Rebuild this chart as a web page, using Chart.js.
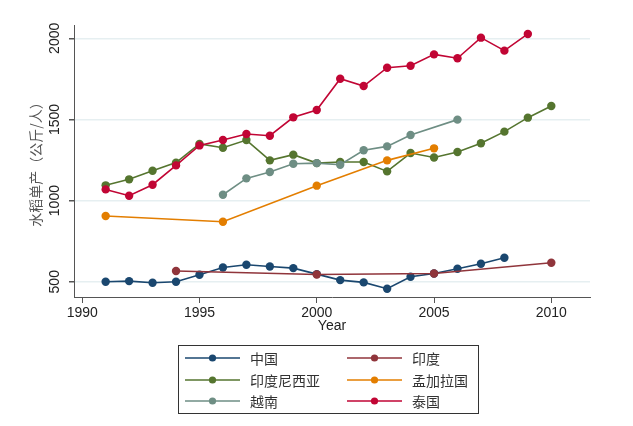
<!DOCTYPE html>
<html><head><meta charset="utf-8">
<script src="https://cdn.jsdelivr.net/npm/chart.js@4"></script>
<style>html,body{margin:0;padding:0;background:#fff}#wrap{width:633px;height:426px}</style>
</head><body><div id="wrap"><canvas id="c" width="633" height="426"></canvas></div>
<script>
const seriesNames = ['中国','印度','印度尼西亚','孟加拉国','越南','泰国'];
const seriesColors = ['#1a476f','#90353b','#55752f','#e37e00','#6e8e84','#c10534'];
const chinaYears = [1991,1992,1993,1994,1995,1996,1997,1998,1999,2000,2001,2002,2003,2004,2005,2006,2007,2008];
const chinaValues = [500,504,494,500,543,588,605,594,584,547,510,496,457,531,551,580,611,648];
const indiaYears = [1994,2000,2005,2010];
const indiaValues = [566,545,551,617];
const indonesiaYears = [1991,1992,1993,1994,1995,1996,1997,1998,1999,2000,2001,2002,2003,2004,2005,2006,2007,2008,2009,2010];
const indonesiaValues = [1094,1131,1184,1234,1349,1326,1373,1248,1283,1231,1238,1238,1180,1293,1266,1299,1353,1425,1511,1583];
const bangladeshYears = [1991,1996,2000,2003,2005];
const bangladeshValues = [905,870,1092,1248,1322];
const vietnamYears = [1996,1997,1998,1999,2000,2001,2002,2003,2004,2006];
const vietnamValues = [1036,1137,1176,1227,1231,1221,1310,1334,1404,1499];
const thailandYears = [1991,1992,1993,1994,1995,1996,1997,1998,1999,2000,2001,2002,2003,2004,2005,2006,2007,2008,2009];
const thailandValues = [1069,1030,1098,1217,1340,1373,1410,1400,1513,1558,1751,1706,1819,1831,1901,1877,2004,1924,2027];
const xTicks = [1990,1995,2000,2005,2010];
const yTicks = [500,1000,1500,2000];
const xTitle = 'Year';
const yTitle = '水稻单产（公斤/人）';

const allYears = [chinaYears,indiaYears,indonesiaYears,bangladeshYears,vietnamYears,thailandYears];
const allValues = [chinaValues,indiaValues,indonesiaValues,bangladeshValues,vietnamValues,thailandValues];

const datasets = seriesNames.map((n,i)=>({
  label:n,
  data: allYears[i].map((y,j)=>({x:y,y:allValues[i][j]})),
  borderColor: seriesColors[i],
  backgroundColor: seriesColors[i],
  borderWidth: 1.6,
  pointRadius: 4.2,
  pointBorderWidth: 0,
  pointBackgroundColor: seriesColors[i],
  tension: 0,
  order: 5 - i
}));

const numFont = '"Liberation Sans", Arial, sans-serif';
const cjkFont = '"Noto Sans CJK SC", sans-serif';

const customDraw = {
  id:'customDraw',
  afterDraw(chart){
    const ctx = chart.ctx;
    const ys = chart.scales.y;
    ctx.save();
    ctx.fillStyle = '#222';
    ctx.font = '14px ' + numFont;
    ctx.textAlign = 'center';
    ctx.textBaseline = 'middle';
    ys.ticks.forEach(t=>{
      const py = ys.getPixelForValue(t.value);
      ctx.save();
      ctx.translate(55, py);
      ctx.rotate(-Math.PI/2);
      ctx.fillText(String(t.value), 0, 0);
      ctx.restore();
    });
    ctx.restore();
    ctx.save();
    ctx.strokeStyle = '#333';
    ctx.lineWidth = 1;
    ctx.strokeRect(178.5, 345.5, 300, 68);
    const colX = [185, 347];
    const rowY = [358, 380, 401];
    chart.data.datasets.forEach((d,i)=>{
      const col = i % 2, row = Math.floor(i/2);
      const x0 = colX[col], y0 = rowY[row];
      ctx.strokeStyle = d.borderColor;
      ctx.lineWidth = 1.5;
      ctx.beginPath(); ctx.moveTo(x0, y0); ctx.lineTo(x0+55, y0); ctx.stroke();
      ctx.fillStyle = d.borderColor;
      ctx.beginPath(); ctx.arc(x0+27.5, y0, 3.6, 0, Math.PI*2); ctx.fill();
      ctx.fillStyle = '#333';
      ctx.font = '14px ' + cjkFont;
      ctx.textAlign = 'left';
      ctx.textBaseline = 'middle';
      ctx.fillText(d.label, x0+65, y0+1);
    });
    ctx.restore();
  }
};

new Chart(document.getElementById('c'), {
  type:'line',
  data:{datasets},
  plugins:[customDraw],
  options:{
    responsive:false,
    animation:false,
    layout:{padding:{left:0,top:25,right:43,bottom:91}},
    plugins:{legend:{display:false},tooltip:{enabled:false}},
    scales:{
      x:{
        type:'linear',
        min:1989.65, max:2011.65,
        afterBuildTicks(s){ s.ticks = xTicks.map(v=>({value:v})); },
        afterFit(s){ s.height = 38; },
        grid:{drawOnChartArea:false, drawTicks:true, tickLength:6, color:'#555', tickColor:'#555'},
        border:{display:true, color:'#555', width:1},
        ticks:{color:'#222', font:{family:numFont, size:14}, padding:2, maxRotation:0, callback:(v)=>String(v)},
        title:{display:true, text:xTitle, color:'#222', font:{family:numFont, size:14, lineHeight:1.2}, padding:{top:0,bottom:0}}
      },
      y:{
        type:'linear',
        min:406, max:2082,
        afterBuildTicks(s){ s.ticks = yTicks.map(v=>({value:v})); },
        afterFit(s){ s.width = 74; },
        grid:{color:'#e6eff1', lineWidth:1.5, drawTicks:true, tickLength:5, tickColor:'#555'},
        border:{display:true, color:'#555', width:1},
        ticks:{color:'rgba(0,0,0,0)', font:{family:numFont, size:14}, padding:2, callback:(v)=>String(v)},
        title:{display:true, text:yTitle, color:'#555', font:{family:cjkFont, size:14, lineHeight:1.2}, padding:{top:27,bottom:0}}
      }
    }
  }
});
</script>
</body></html>
